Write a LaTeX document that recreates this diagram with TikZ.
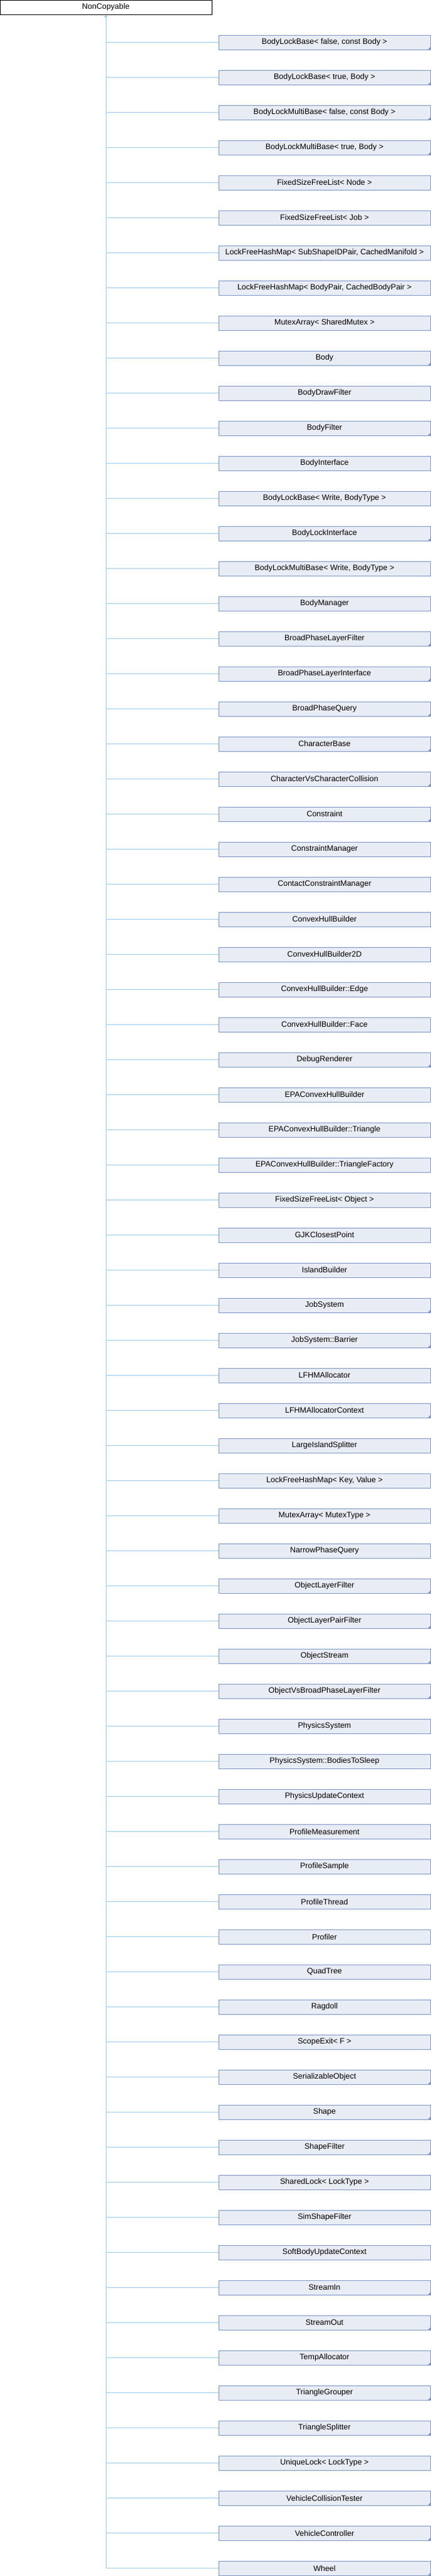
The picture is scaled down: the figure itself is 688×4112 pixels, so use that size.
\documentclass[tikz,border=0pt]{standalone}
\usepackage{fontspec}
\setmainfont{Liberation Sans}
\usetikzlibrary{arrows.meta}
\definecolor{boxfill}{HTML}{E8ECF4}
\definecolor{boxline}{HTML}{7C95C6}
\definecolor{edgeblue}{HTML}{9CCBEA}
\tikzset{
  basebox/.style={draw=black, fill=white, line width=1pt, minimum width=338pt, minimum height=23pt, inner sep=0pt},
  classbox/.style={draw=boxline, fill=boxfill, line width=1pt, minimum width=338pt, minimum height=23pt, inner sep=0pt},
  edge/.style={draw=edgeblue, line width=1pt}
}
\begin{document}
\begin{tikzpicture}[x=1pt, y=-1pt, font=\fontsize{12.5}{15}\selectfont]
                 \useasboundingbox (0,0) rectangle (688,4112);
                 \node[basebox] (top) at (169,11.5) {NonCopyable};
                 \foreach \lbl/\more [count=\i] in {
                   {BodyLockBase< false, const Body >}/1, {BodyLockBase< true, Body >}/1,
                   {BodyLockMultiBase< false, const Body >}/1, {BodyLockMultiBase< true, Body >}/1,
                   {FixedSizeFreeList< Node >}/0, {FixedSizeFreeList< Job >}/0,
                   {LockFreeHashMap< SubShapeIDPair, CachedManifold >}/0, {LockFreeHashMap< BodyPair, CachedBodyPair >}/0,
                   {MutexArray< SharedMutex >}/0, Body/1, BodyDrawFilter/0, BodyFilter/1, BodyInterface/0,
                   {BodyLockBase< Write, BodyType >}/0, BodyLockInterface/1, {BodyLockMultiBase< Write, BodyType >}/0,
                   BodyManager/0, BroadPhaseLayerFilter/1, BroadPhaseLayerInterface/1, BroadPhaseQuery/1,
                   CharacterBase/1, CharacterVsCharacterCollision/1, Constraint/1, ConstraintManager/0,
                   ContactConstraintManager/0, ConvexHullBuilder/0, ConvexHullBuilder2D/0, ConvexHullBuilder::Edge/0,
                   ConvexHullBuilder::Face/0, DebugRenderer/1, EPAConvexHullBuilder/0, EPAConvexHullBuilder::Triangle/0,
                   EPAConvexHullBuilder::TriangleFactory/0, {FixedSizeFreeList< Object >}/0, GJKClosestPoint/0,
                   IslandBuilder/0, JobSystem/1, JobSystem::Barrier/1, LFHMAllocator/0, LFHMAllocatorContext/1,
                   LargeIslandSplitter/0, {LockFreeHashMap< Key, Value >}/0, {MutexArray< MutexType >}/0,
                   NarrowPhaseQuery/0, ObjectLayerFilter/1, ObjectLayerPairFilter/1, ObjectStream/1,
                   ObjectVsBroadPhaseLayerFilter/1, PhysicsSystem/0, PhysicsSystem::BodiesToSleep/0,
                   PhysicsUpdateContext/0, ProfileMeasurement/0, ProfileSample/0, ProfileThread/0, Profiler/0,
                   QuadTree/0, Ragdoll/0, {ScopeExit< F >}/0, SerializableObject/1, Shape/1, ShapeFilter/1,
                   {SharedLock< LockType >}/0, SimShapeFilter/0, SoftBodyUpdateContext/0, StreamIn/1, StreamOut/1,
                   TempAllocator/1, TriangleGrouper/1, TriangleSplitter/1, {UniqueLock< LockType >}/0,
                   VehicleCollisionTester/1, VehicleController/1, Wheel/1} {
                   \node[classbox] (c\i) at (518,56*\i+11.5) {\lbl};
                   \draw[edge] (c\i.west) -- (c\i.west -| top.south);
                   \ifnum\more=1
                     \fill[boxline] (c\i.south east) -- ++(0,-5) -- ++(-5,5) -- cycle;
                   \fi
                 }
                 \coordinate (trunkend) at (c73.west -| top.south);
                 \draw[edge, -{Triangle[width=5pt,length=4pt]}] (trunkend) -- (top.south);
            \end{tikzpicture}
\end{document}
